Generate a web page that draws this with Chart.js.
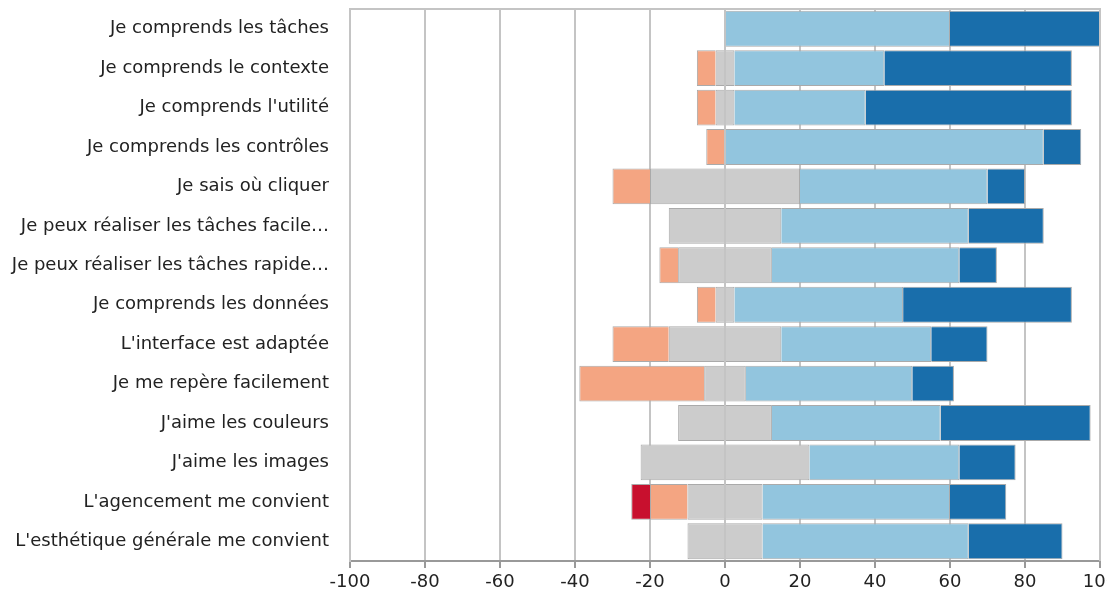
<!DOCTYPE html>
<html>
<head>
<meta charset="utf-8">
<script src="https://cdn.jsdelivr.net/npm/chart.js@4"></script>
<style>
  html, body { margin: 0; padding: 0; background: #fff; }
  #wrap { width: 1107px; height: 597px; }
</style>
</head>
<body>
<div id="wrap"><canvas id="main-chart"></canvas></div>
<script>
const labels = [
    "Je comprends les tâches",
    "Je comprends le contexte",
    "Je comprends l'utilité",
    "Je comprends les contrôles",
    "Je sais où cliquer",
    "Je peux réaliser les tâches facile…",
    "Je peux réaliser les tâches rapide…",
    "Je comprends les données",
    "L'interface est adaptée",
    "Je me repère facilement",
    "J'aime les couleurs",
    "J'aime les images",
    "L'agencement me convient",
    "L'esthétique générale me convient",
];

// percentages per answer level
const stronglyDisagree = [0, 0, 0, 0, 0, 0, 0, 0, 0, 0, 0, 0, 5, 0];
const disagree         = [0, 5, 5, 5, 10, 0, 5, 5, 15, 33.3, 0, 0, 10, 0];
const neutral          = [0, 5, 5, 0, 40, 30, 25, 5, 30, 11.1, 25, 45, 20, 20];
const agree            = [60, 40, 35, 85, 50, 50, 50, 45, 40, 44.4, 45, 40, 50, 55];
const stronglyAgree    = [40, 50, 55, 10, 10, 20, 10, 45, 15, 11.1, 40, 15, 15, 25];

const xTicks = [-100, -80, -60, -40, -20, 0, 20, 40, 60, 80, 100];

const colors = {
    sd: '#c8102e',
    d: '#f4a582',
    n: '#cccccc',
    a: '#92c5de',
    sa: '#196eab',
};

const edge = '#aaaaaa';
const fontFamily = "'DejaVu Sans', sans-serif";

function ds(label, values, color) {
    return {
        label: label,
        data: values,
        backgroundColor: color,
        borderColor: edge,
        borderWidth: 1,
        borderSkipped: 'start',
        stack: 's',
    };
}

const data = {
    labels: labels,
    datasets: [
        // left side, stacked from zero outward
        ds('Neutre -', neutral.map(v => -v / 2), colors.n),
        ds("Pas d'accord", disagree.map(v => -v), colors.d),
        ds("Pas du tout d'accord", stronglyDisagree.map(v => -v), colors.sd),
        // right side
        ds('Neutre +', neutral.map(v => v / 2), colors.n),
        ds("D'accord", agree, colors.a),
        ds("Tout à fait d'accord", stronglyAgree, colors.sa),
    ]
};

// box around the plot area (top + right edges)
const frame = {
    id: 'frame',
    afterDraw(chart) {
        const { ctx, chartArea: a } = chart;
        ctx.save();
        ctx.strokeStyle = '#c4c4c4';
        ctx.lineWidth = 2;
        ctx.beginPath();
        ctx.moveTo(a.left, a.top);
        ctx.lineTo(a.right, a.top);
        ctx.lineTo(a.right, a.bottom);
        ctx.stroke();
        ctx.restore();
    }
};

const config = {
    type: 'bar',
    data: data,
    options: {
        indexAxis: 'y',
        responsive: true,
        maintainAspectRatio: false,
        animation: false,
        layout: {
            padding: { top: 9, right: 7, left: 0, bottom: 0 }
        },
        plugins: {
            legend: { display: false },
            tooltip: { enabled: false },
        },
        datasets: {
            bar: {
                barPercentage: 0.91,
                categoryPercentage: 1.0,
            }
        },
        scales: {
            x: {
                stacked: true,
                min: -100,
                max: 100,
                afterBuildTicks: (scale) => {
                    scale.ticks = xTicks.map(v => ({ value: v }));
                },
                afterFit: (scale) => {
                    scale.height = 36;
                    scale.paddingLeft = 0;
                    scale.paddingRight = 0;
                },
                grid: {
                    color: '#c4c4c4',
                    lineWidth: 2,
                    tickLength: 7,
                    tickColor: '#999999',
                },
                border: { color: '#999999', width: 2 },
                ticks: {
                    color: '#222',
                    font: { family: fontFamily, size: 18 },
                    padding: 4,
                    maxRotation: 0,
                },
            },
            y: {
                stacked: true,
                afterFit: (scale) => {
                    scale.width = 350;
                    scale.paddingTop = 0;
                    scale.paddingBottom = 0;
                },
                grid: { display: false },
                border: { color: '#c4c4c4', width: 2 },
                ticks: {
                    color: '#222',
                    font: { family: fontFamily, size: 18 },
                    padding: 13,
                    autoSkip: false,
                },
            },
        },
    },
    plugins: [frame],
};

const myChart = new Chart(document.getElementById('main-chart'), config);
</script>
</body>
</html>
